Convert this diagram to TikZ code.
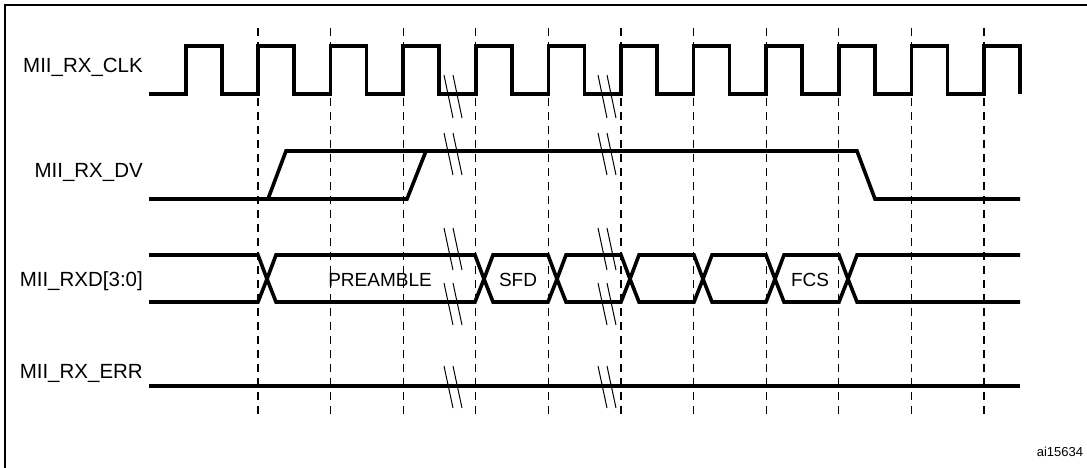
\documentclass[tikz,border=0pt]{standalone}
\usepackage{fontspec}
\setmainfont{Liberation Sans}
\begin{document}
\begin{tikzpicture}[x=1pt,y=-1pt,
  sig/.style={line width=3.6pt,line join=miter},
  grid/.style={line width=1.3pt,dash pattern=on 8pt off 6pt},
  brk/.style={line width=1pt},
  lbl/.style={anchor=east,inner sep=0pt,font=\fontsize{20.5}{23}\selectfont},
  dat/.style={inner sep=0pt,font=\fontsize{19}{21}\selectfont}]
\useasboundingbox (0,0) rectangle (1087,468);
\draw[line width=1.3pt] (5,470) -- (5,5) -- (1090,5);
% dashed grid
\foreach \i in {0,...,10} {\draw[grid] (258+72.6*\i,28) -- (258+72.6*\i,414);}
% labels
\node[lbl] (lclk) at (143,67) {MII\_RX\_CLK};
\node[lbl] (ldv) at (143,172) {MII\_RX\_DV};
\node[lbl] (lrxd) at (143,281) {MII\_RXD[3:0]};
\node[lbl] (lerr) at (143,373) {MII\_RX\_ERR};
% clock
\draw[sig] (149,94) -- (186,94) -- (186,46) -- (222,46) -- (222,94)
  \foreach \i in {0,...,10} { -- ({258+72.6*\i},94) -- ({258+72.6*\i},46) -- ({294+72.6*\i},46) -- ({294+72.6*\i},94)};
% DV
\draw[sig] (149,199) -- (268,199) -- (286,151) -- (857,151) -- (875,199) -- (1020,199);
\draw[sig] (268,199) -- (407,199) -- (426,151);
% RXD
\draw[sig] (149,255) -- (258,255) -- (267,279) -- (258,302) -- (149,302);
\foreach \a/\b in {267/484,484/557,557/630,630/703,703/775,775/848} {
  \draw[sig] (\a,279) -- (\a+9,255) -- (\b-9,255) -- (\b,279) -- (\b-9,302) -- (\a+9,302) -- cycle;
}
\draw[sig] (1020,255) -- (857,255) -- (848,279) -- (857,302) -- (1020,302);
\node[dat] (pre) at (380,280) {PREAMBLE};
\node[dat] (sfd) at (518,280) {SFD};
\node[dat] (fcs) at (810,280) {FCS};
% ERR
\draw[sig] (149,386) -- (1020,386);
% break marks
\foreach \bx in {444,598} {
  \foreach \ya/\yb in {75/118,133/175,228/270,283/325,366/408} {
    \draw[brk] (\bx,\ya) -- (\bx+9,\yb);
    \draw[brk] (\bx+9,\ya) -- (\bx+18,\yb);
  }
}
\node[inner sep=0pt,font=\fontsize{13}{15}\selectfont] (tag) at (1060,452) {ai15634};
\end{tikzpicture}
\end{document}
